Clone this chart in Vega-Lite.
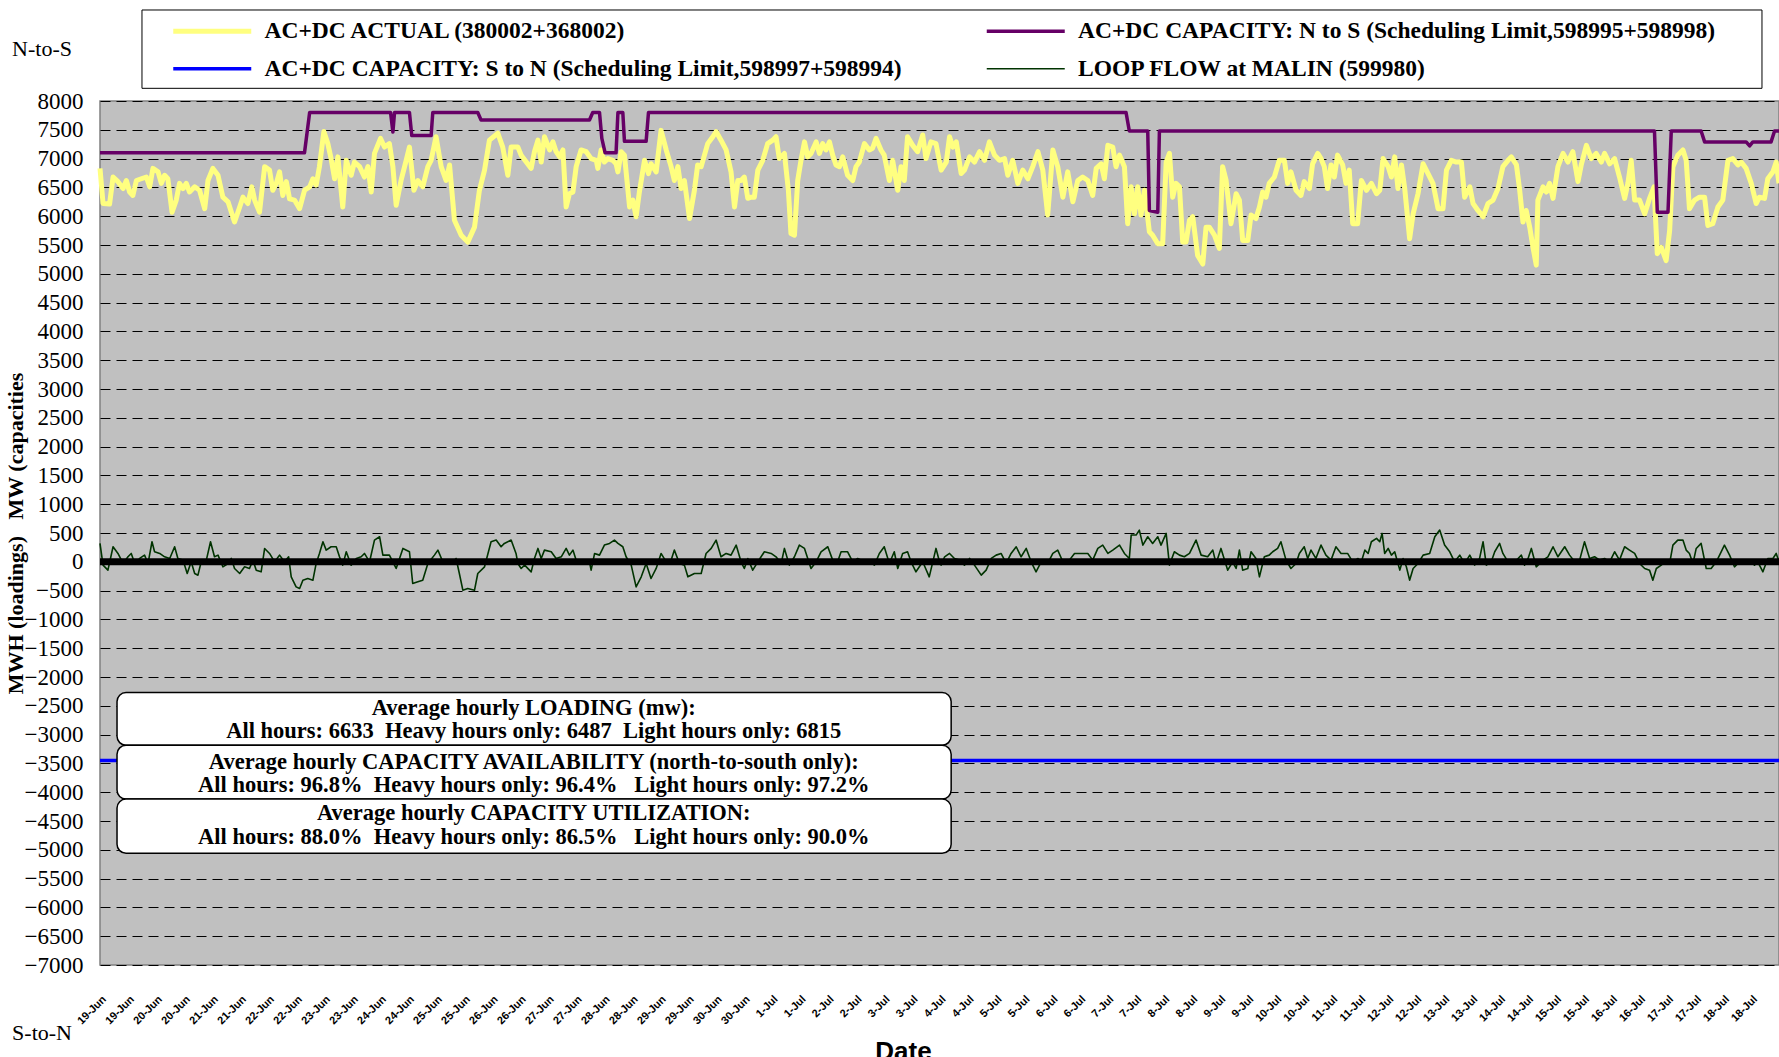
{
"$schema": "https://vega.github.io/schema/vega-lite/v6.json",
"width": 1679, "height": 864,
"autosize": {"type": "none"},
"padding": {"left": 100, "top": 101, "right": 0, "bottom": 92},
"background": "white",
"datasets": {
"box": [{"h": 18, "h2": 712.7, "v": 9580, "v2": 8220}],
"blue": [{"s": "S", "h": 0, "v": -3450}, {"s": "S", "h": 720, "v": -3450}],
"yel": [
{"s":"A","h":0,"v":6830},{"s":"A","h":1.3,"v":6220},{"s":"A","h":4.1,"v":6210},{"s":"A","h":5.6,"v":6680},{"s":"A","h":7.7,"v":6600},{"s":"A","h":9.9,"v":6480},{"s":"A","h":11.3,"v":6620},{"s":"A","h":12.7,"v":6420},{"s":"A","h":14.1,"v":6360},{"s":"A","h":15.6,"v":6620},{"s":"A","h":17.7,"v":6650},{"s":"A","h":19.9,"v":6680},{"s":"A","h":21.3,"v":6510},{"s":"A","h":22.7,"v":6830},{"s":"A","h":24.9,"v":6770},{"s":"A","h":26.3,"v":6570},{"s":"A","h":27.7,"v":6710},{"s":"A","h":29.1,"v":6650},{"s":"A","h":30.9,"v":6070},{"s":"A","h":32.7,"v":6280},{"s":"A","h":34.1,"v":6570},{"s":"A","h":35.6,"v":6480},{"s":"A","h":37,"v":6570},{"s":"A","h":38.4,"v":6420},{"s":"A","h":40.6,"v":6510},{"s":"A","h":42.7,"v":6450},{"s":"A","h":44.9,"v":6130},{"s":"A","h":46.3,"v":6620},{"s":"A","h":48.4,"v":6830},{"s":"A","h":50.6,"v":6710},{"s":"A","h":52.7,"v":6330},{"s":"A","h":54.9,"v":6250},{"s":"A","h":57.7,"v":5900},{"s":"A","h":59.9,"v":6160},{"s":"A","h":61.3,"v":6330},{"s":"A","h":63.4,"v":6220},{"s":"A","h":65.1,"v":6510},{"s":"A","h":66.3,"v":6280},{"s":"A","h":68.4,"v":6070},{"s":"A","h":70.6,"v":6860},{"s":"A","h":72.7,"v":6800},{"s":"A","h":74.1,"v":6450},{"s":"A","h":75.6,"v":6570},{"s":"A","h":77,"v":6770},{"s":"A","h":78.4,"v":6360},{"s":"A","h":79.9,"v":6600},{"s":"A","h":81.3,"v":6300},{"s":"A","h":83.4,"v":6280},{"s":"A","h":85.6,"v":6130},{"s":"A","h":87.7,"v":6450},{"s":"A","h":89.9,"v":6510},{"s":"A","h":91.3,"v":6650},{"s":"A","h":92.7,"v":6540},{"s":"A","h":94.1,"v":6860},{"s":"A","h":96,"v":7470},{"s":"A","h":97.7,"v":7260},{"s":"A","h":99.1,"v":7000},{"s":"A","h":100.6,"v":6650},{"s":"A","h":102,"v":7030},{"s":"A","h":104.1,"v":6160},{"s":"A","h":105.6,"v":6970},{"s":"A","h":107.7,"v":6710},{"s":"A","h":109.1,"v":6940},{"s":"A","h":111.3,"v":6860},{"s":"A","h":113.4,"v":6680},{"s":"A","h":114.9,"v":6860},{"s":"A","h":116.3,"v":6420},{"s":"A","h":117.7,"v":7090},{"s":"A","h":120.3,"v":7350},{"s":"A","h":122,"v":7200},{"s":"A","h":124.1,"v":7260},{"s":"A","h":125.6,"v":6860},{"s":"A","h":127,"v":6190},{"s":"A","h":129.1,"v":6620},{"s":"A","h":131.3,"v":6970},{"s":"A","h":132.7,"v":7200},{"s":"A","h":134.6,"v":6450},{"s":"A","h":136.3,"v":6620},{"s":"A","h":138.4,"v":6510},{"s":"A","h":140.6,"v":6860},{"s":"A","h":142,"v":6970},{"s":"A","h":144.1,"v":7380},{"s":"A","h":146.3,"v":6860},{"s":"A","h":148.4,"v":6620},{"s":"A","h":149.9,"v":6890},{"s":"A","h":152,"v":5930},{"s":"A","h":154.9,"v":5670},{"s":"A","h":157.7,"v":5550},{"s":"A","h":160.6,"v":5810},{"s":"A","h":162.7,"v":6450},{"s":"A","h":164.9,"v":6800},{"s":"A","h":167,"v":7320},{"s":"A","h":170.6,"v":7440},{"s":"A","h":172.7,"v":7200},{"s":"A","h":174.9,"v":6710},{"s":"A","h":176.3,"v":7200},
{"s":"A","h":179.2,"v":7200},{"s":"A","h":180.6,"v":7060},{"s":"A","h":182.8,"v":6940},{"s":"A","h":184.9,"v":6830},{"s":"A","h":186.3,"v":7120},{"s":"A","h":187.8,"v":7320},{"s":"A","h":189.2,"v":6940},{"s":"A","h":190.6,"v":7380},{"s":"A","h":192.8,"v":7150},{"s":"A","h":194.2,"v":7290},{"s":"A","h":195.6,"v":7120},{"s":"A","h":197.1,"v":7030},{"s":"A","h":198.5,"v":7150},{"s":"A","h":199.9,"v":6160},{"s":"A","h":201.3,"v":6390},{"s":"A","h":202.8,"v":6420},{"s":"A","h":204.2,"v":6860},{"s":"A","h":206.3,"v":7150},{"s":"A","h":208.5,"v":7120},{"s":"A","h":210.6,"v":7000},{"s":"A","h":212.8,"v":6970},{"s":"A","h":213.5,"v":6830},{"s":"A","h":214.9,"v":7150},{"s":"A","h":216.3,"v":6940},{"s":"A","h":217.8,"v":7000},{"s":"A","h":219.9,"v":6970},{"s":"A","h":221.3,"v":6910},{"s":"A","h":222.1,"v":6770},{"s":"A","h":223.5,"v":7120},{"s":"A","h":224.9,"v":7060},{"s":"A","h":227.1,"v":6160},{"s":"A","h":228.5,"v":6280},{"s":"A","h":229.9,"v":5990},{"s":"A","h":231.3,"v":6420},{"s":"A","h":233.5,"v":6970},{"s":"A","h":235.2,"v":6740},{"s":"A","h":236.3,"v":6910},{"s":"A","h":238.5,"v":6770},{"s":"A","h":240.6,"v":7490},{"s":"A","h":242.8,"v":7150},{"s":"A","h":244.9,"v":6860},{"s":"A","h":246.3,"v":6620},{"s":"A","h":247.8,"v":6860},{"s":"A","h":249.2,"v":6480},{"s":"A","h":250.6,"v":6620},{"s":"A","h":252.8,"v":5960},{"s":"A","h":254.9,"v":6450},{"s":"A","h":256.3,"v":6890},{"s":"A","h":257.8,"v":6860},{"s":"A","h":259.2,"v":7060},{"s":"A","h":260.6,"v":7260},{"s":"A","h":262.8,"v":7380},{"s":"A","h":264.2,"v":7470},{"s":"A","h":266.3,"v":7320},{"s":"A","h":268.5,"v":7150},{"s":"A","h":270.6,"v":6770},{"s":"A","h":272.1,"v":6160},{"s":"A","h":273.5,"v":6620},{"s":"A","h":274.9,"v":6620},{"s":"A","h":276.3,"v":6680},{"s":"A","h":277.8,"v":6310},{"s":"A","h":279.2,"v":6330},{"s":"A","h":280.6,"v":6330},{"s":"A","h":282.1,"v":6800},{"s":"A","h":284.2,"v":6970},{"s":"A","h":286.3,"v":7260},{"s":"A","h":288.5,"v":7320},{"s":"A","h":289.9,"v":7380},{"s":"A","h":291.3,"v":7000},{"s":"A","h":293.5,"v":7090},{"s":"A","h":295.2,"v":6450},{"s":"A","h":296.3,"v":5700},{"s":"A","h":297.8,"v":5670},{"s":"A","h":299.2,"v":6620},{"s":"A","h":300.6,"v":6970},{"s":"A","h":302.1,"v":7290},{"s":"A","h":303.5,"v":7030},{"s":"A","h":304.9,"v":7090},{"s":"A","h":307.1,"v":7290},{"s":"A","h":308.5,"v":7090},{"s":"A","h":309.9,"v":7260},{"s":"A","h":311.3,"v":7150},{"s":"A","h":312.8,"v":7290},{"s":"A","h":314.2,"v":7060},{"s":"A","h":315.6,"v":6890},{"s":"A","h":317.1,"v":6860},{"s":"A","h":318.5,"v":7030},{"s":"A","h":320.6,"v":6710},{"s":"A","h":322.8,"v":6620},{"s":"A","h":324.2,"v":6860},{"s":"A","h":325.6,"v":6940},{"s":"A","h":327.8,"v":7260},{"s":"A","h":329.9,"v":7150},{"s":"A","h":331.3,"v":7180},{"s":"A","h":332.8,"v":7350},{"s":"A","h":334.9,"v":7150},{"s":"A","h":336.3,"v":7060},{"s":"A","h":338.5,"v":6620},{"s":"A","h":339.9,"v":6970},{"s":"A","h":342.1,"v":6450},{"s":"A","h":343.5,"v":6860},{"s":"A","h":344.9,"v":6620},{"s":"A","h":346.3,"v":7380},{"s":"A","h":348.5,"v":7230},{"s":"A","h":350.6,"v":7120},{"s":"A","h":352.8,"v":7410},{"s":"A","h":354.2,"v":7000},{"s":"A","h":356.3,"v":7290},{"s":"A","h":358.5,"v":7260},
{"s":"A","h":360.7,"v":6800},{"s":"A","h":362.9,"v":6940},{"s":"A","h":364.3,"v":7380},{"s":"A","h":365.7,"v":7200},{"s":"A","h":367.2,"v":7290},{"s":"A","h":369.3,"v":6740},{"s":"A","h":370.7,"v":6800},{"s":"A","h":372.9,"v":7030},{"s":"A","h":375,"v":6940},{"s":"A","h":377.2,"v":7120},{"s":"A","h":379.3,"v":6970},{"s":"A","h":381.4,"v":7290},{"s":"A","h":383.6,"v":7060},{"s":"A","h":385.7,"v":6970},{"s":"A","h":387.9,"v":7000},{"s":"A","h":389.3,"v":6710},{"s":"A","h":391.4,"v":6970},{"s":"A","h":393.6,"v":6570},{"s":"A","h":395.7,"v":6800},{"s":"A","h":397.9,"v":6650},{"s":"A","h":400,"v":6860},{"s":"A","h":402.2,"v":7120},{"s":"A","h":404.3,"v":6800},{"s":"A","h":406.4,"v":6020},{"s":"A","h":408.6,"v":7150},{"s":"A","h":410.7,"v":6860},{"s":"A","h":412.9,"v":6330},{"s":"A","h":415,"v":6770},{"s":"A","h":417.2,"v":6250},{"s":"A","h":419.3,"v":6620},{"s":"A","h":421.4,"v":6680},{"s":"A","h":423.6,"v":6620},{"s":"A","h":425.7,"v":6360},{"s":"A","h":427.2,"v":6830},{"s":"A","h":429.3,"v":6910},{"s":"A","h":430.7,"v":6650},{"s":"A","h":432.2,"v":7230},{"s":"A","h":434.3,"v":7200},{"s":"A","h":435.7,"v":6860},{"s":"A","h":437.2,"v":7060},{"s":"A","h":439.3,"v":6860},{"s":"A","h":440.7,"v":5870},{"s":"A","h":442.2,"v":6510},{"s":"A","h":443.6,"v":6040},{"s":"A","h":445,"v":6510},{"s":"A","h":446.4,"v":6020},{"s":"A","h":447.9,"v":6450},{"s":"A","h":450,"v":5730},{"s":"A","h":451.4,"v":5670},{"s":"A","h":453.6,"v":5520},{"s":"A","h":455.7,"v":5520},{"s":"A","h":457.2,"v":6940},{"s":"A","h":458.6,"v":7090},{"s":"A","h":460,"v":6330},{"s":"A","h":461.4,"v":6570},{"s":"A","h":462.9,"v":6510},{"s":"A","h":464.3,"v":5550},{"s":"A","h":465.7,"v":5550},{"s":"A","h":467.2,"v":5930},{"s":"A","h":468.6,"v":5990},{"s":"A","h":470.7,"v":5320},{"s":"A","h":472.9,"v":5170},{"s":"A","h":474.3,"v":5810},{"s":"A","h":475.7,"v":5810},{"s":"A","h":477.9,"v":5670},{"s":"A","h":480,"v":5440},{"s":"A","h":481.4,"v":6860},{"s":"A","h":482.9,"v":6620},{"s":"A","h":485,"v":5870},{"s":"A","h":487.2,"v":6390},{"s":"A","h":488.6,"v":6280},{"s":"A","h":490,"v":5580},{"s":"A","h":492.2,"v":5580},{"s":"A","h":493.6,"v":6020},{"s":"A","h":495.7,"v":5960},{"s":"A","h":497.2,"v":6160},{"s":"A","h":498.6,"v":6420},{"s":"A","h":500,"v":6330},{"s":"A","h":501.4,"v":6570},{"s":"A","h":503.6,"v":6680},{"s":"A","h":505.7,"v":6970},{"s":"A","h":507.9,"v":6970},{"s":"A","h":509.3,"v":6570},{"s":"A","h":510.7,"v":6770},{"s":"A","h":512.9,"v":6450},{"s":"A","h":515,"v":6360},{"s":"A","h":516.4,"v":6600},{"s":"A","h":518.6,"v":6480},{"s":"A","h":520,"v":6910},{"s":"A","h":522.2,"v":7090},{"s":"A","h":523.6,"v":7000},{"s":"A","h":525,"v":6860},{"s":"A","h":526.4,"v":6480},{"s":"A","h":527.9,"v":6890},{"s":"A","h":529.3,"v":6680},{"s":"A","h":530.7,"v":7060},{"s":"A","h":532.9,"v":6890},{"s":"A","h":534.3,"v":6570},{"s":"A","h":535.7,"v":6800},{"s":"A","h":537.2,"v":5870},{"s":"A","h":539.3,"v":5870},
{"s":"A","h":540.9,"v":6620},{"s":"A","h":543.1,"v":6450},{"s":"A","h":545.2,"v":6570},{"s":"A","h":547.4,"v":6390},{"s":"A","h":548.8,"v":6450},{"s":"A","h":550.2,"v":7000},{"s":"A","h":552.4,"v":6860},{"s":"A","h":553.8,"v":6680},{"s":"A","h":555.2,"v":7030},{"s":"A","h":556.6,"v":6480},{"s":"A","h":558.1,"v":6890},{"s":"A","h":559.5,"v":6480},{"s":"A","h":561.6,"v":5610},{"s":"A","h":563.1,"v":6040},{"s":"A","h":565.2,"v":6390},{"s":"A","h":567.4,"v":6910},{"s":"A","h":569.5,"v":6740},{"s":"A","h":571.6,"v":6570},{"s":"A","h":573.8,"v":6130},{"s":"A","h":575.9,"v":6130},{"s":"A","h":577.4,"v":6800},{"s":"A","h":579.5,"v":6970},{"s":"A","h":581.6,"v":6940},{"s":"A","h":583.8,"v":6940},{"s":"A","h":585.2,"v":6330},{"s":"A","h":587.4,"v":6510},{"s":"A","h":588.8,"v":6220},{"s":"A","h":590.9,"v":6100},{"s":"A","h":593.1,"v":5990},{"s":"A","h":595.2,"v":6220},{"s":"A","h":597.4,"v":6280},{"s":"A","h":599.5,"v":6480},{"s":"A","h":601.6,"v":6860},{"s":"A","h":603.8,"v":6970},{"s":"A","h":605.2,"v":7030},{"s":"A","h":607.4,"v":6890},{"s":"A","h":608.8,"v":6450},{"s":"A","h":610.2,"v":5900},{"s":"A","h":611.6,"v":6100},{"s":"A","h":613.1,"v":5810},{"s":"A","h":614.5,"v":5460},{"s":"A","h":615.9,"v":5150},{"s":"A","h":616.6,"v":6280},{"s":"A","h":618.8,"v":6510},{"s":"A","h":620.2,"v":6420},{"s":"A","h":621.6,"v":6570},{"s":"A","h":623.1,"v":6310},{"s":"A","h":625.2,"v":6860},{"s":"A","h":627.4,"v":7090},{"s":"A","h":629.5,"v":6940},{"s":"A","h":631.6,"v":7120},{"s":"A","h":633.8,"v":6600},{"s":"A","h":635.2,"v":6890},{"s":"A","h":637.4,"v":7230},{"s":"A","h":639.5,"v":7000},{"s":"A","h":641.6,"v":7090},{"s":"A","h":643.8,"v":6940},{"s":"A","h":645.2,"v":7090},{"s":"A","h":647.4,"v":6910},{"s":"A","h":649.5,"v":7000},{"s":"A","h":651.6,"v":6680},{"s":"A","h":653.8,"v":6310},{"s":"A","h":655.2,"v":6570},{"s":"A","h":656.6,"v":6970},{"s":"A","h":658.1,"v":6280},{"s":"A","h":660.2,"v":6280},{"s":"A","h":662.4,"v":6040},{"s":"A","h":664.5,"v":6310},{"s":"A","h":666.4,"v":6510},{"s":"A","h":667.8,"v":5350},{"s":"A","h":669.5,"v":5460},{"s":"A","h":671.6,"v":5230},{"s":"A","h":673.1,"v":5750},{"s":"A","h":674.5,"v":6860},{"s":"A","h":676.6,"v":7060},{"s":"A","h":678.8,"v":7150},{"s":"A","h":680.2,"v":6970},{"s":"A","h":681.6,"v":6130},{"s":"A","h":683.8,"v":6280},{"s":"A","h":685.9,"v":6330},{"s":"A","h":688.1,"v":6330},{"s":"A","h":689.5,"v":5840},{"s":"A","h":691.6,"v":5870},{"s":"A","h":693.8,"v":6160},{"s":"A","h":695.9,"v":6280},{"s":"A","h":698.1,"v":6970},{"s":"A","h":700.2,"v":7000},{"s":"A","h":702.4,"v":6890},{"s":"A","h":703.8,"v":6940},{"s":"A","h":705.9,"v":6830},{"s":"A","h":708.1,"v":6570},{"s":"A","h":710.2,"v":6220},{"s":"A","h":711.6,"v":6330},{"s":"A","h":713.8,"v":6310},{"s":"A","h":715.2,"v":6650},{"s":"A","h":717.4,"v":6770},{"s":"A","h":718.8,"v":6940},{"s":"A","h":720,"v":6570}
],
"pur": [
{"s":"N","h":0,"v":7100},{"s":"N","h":87.7,"v":7100},{"s":"N","h":89.9,"v":7800},{"s":"N","h":124.6,"v":7800},{"s":"N","h":125.6,"v":7460},{"s":"N","h":126.3,"v":7800},{"s":"N","h":132.7,"v":7800},{"s":"N","h":133.7,"v":7400},{"s":"N","h":142,"v":7400},{"s":"N","h":142.7,"v":7800},{"s":"N","h":162,"v":7800},{"s":"N","h":163.4,"v":7670},{"s":"N","h":209.9,"v":7670},{"s":"N","h":211.3,"v":7800},{"s":"N","h":214.2,"v":7800},{"s":"N","h":215.2,"v":7350},{"s":"N","h":216.6,"v":7100},{"s":"N","h":221.3,"v":7100},{"s":"N","h":222.1,"v":7800},{"s":"N","h":224.2,"v":7800},{"s":"N","h":224.9,"v":7300},{"s":"N","h":234.2,"v":7300},{"s":"N","h":235.2,"v":7800},{"s":"N","h":440,"v":7800},{"s":"N","h":441.4,"v":7480},{"s":"N","h":449.3,"v":7480},{"s":"N","h":450,"v":6100},{"s":"N","h":453.6,"v":6070},{"s":"N","h":454.3,"v":7480},{"s":"N","h":666.6,"v":7480},{"s":"N","h":667.8,"v":6070},{"s":"N","h":672.4,"v":6070},{"s":"N","h":673.8,"v":7480},{"s":"N","h":686.6,"v":7480},{"s":"N","h":688.1,"v":7290},{"s":"N","h":705.9,"v":7290},{"s":"N","h":707.4,"v":7220},{"s":"N","h":708.8,"v":7290},{"s":"N","h":716.6,"v":7290},{"s":"N","h":718.1,"v":7480},{"s":"N","h":720,"v":7480}
],
"grn": [
{"s":"L","h":0,"v":319},{"s":"L","h":1.3,"v":-58},{"s":"L","h":3.4,"v":-145},{"s":"L","h":5.6,"v":261},{"s":"L","h":7.7,"v":145},{"s":"L","h":9.9,"v":-29},{"s":"L","h":12,"v":87},{"s":"L","h":13.4,"v":145},{"s":"L","h":14.9,"v":-29},{"s":"L","h":17,"v":58},{"s":"L","h":19.1,"v":116},{"s":"L","h":20.6,"v":-29},{"s":"L","h":22.3,"v":348},{"s":"L","h":23.4,"v":174},{"s":"L","h":25.6,"v":145},{"s":"L","h":27.7,"v":87},{"s":"L","h":29.9,"v":58},{"s":"L","h":32,"v":261},{"s":"L","h":33.4,"v":58},{"s":"L","h":35.6,"v":29},{"s":"L","h":37.4,"v":-203},{"s":"L","h":39.1,"v":0},{"s":"L","h":40.6,"v":-203},{"s":"L","h":42,"v":-232},{"s":"L","h":43.4,"v":0},{"s":"L","h":45.6,"v":29},{"s":"L","h":47.4,"v":348},{"s":"L","h":49.1,"v":87},{"s":"L","h":50.6,"v":116},{"s":"L","h":52.7,"v":-87},{"s":"L","h":54.9,"v":-29},{"s":"L","h":56.3,"v":58},{"s":"L","h":57.7,"v":-116},{"s":"L","h":59.9,"v":-203},{"s":"L","h":62,"v":-87},{"s":"L","h":64.1,"v":-116},{"s":"L","h":65.6,"v":29},{"s":"L","h":67,"v":-145},{"s":"L","h":69.1,"v":-174},{"s":"L","h":70.6,"v":232},{"s":"L","h":72.7,"v":145},{"s":"L","h":74.9,"v":0},{"s":"L","h":77,"v":116},{"s":"L","h":79.1,"v":0},{"s":"L","h":80.9,"v":87},{"s":"L","h":82,"v":-261},{"s":"L","h":84.1,"v":-435},{"s":"L","h":85.6,"v":-464},{"s":"L","h":87,"v":-319},{"s":"L","h":89.1,"v":-290},{"s":"L","h":91.3,"v":-319},{"s":"L","h":92.7,"v":-29},{"s":"L","h":94.1,"v":145},{"s":"L","h":95.6,"v":348},{"s":"L","h":97,"v":203},{"s":"L","h":99.1,"v":261},{"s":"L","h":101.3,"v":261},{"s":"L","h":102.7,"v":87},{"s":"L","h":104.1,"v":-58},{"s":"L","h":105.6,"v":174},{"s":"L","h":107.7,"v":-58},{"s":"L","h":109.9,"v":58},{"s":"L","h":112,"v":87},{"s":"L","h":113.4,"v":145},{"s":"L","h":115.6,"v":0},{"s":"L","h":117.7,"v":377},{"s":"L","h":119.9,"v":435},{"s":"L","h":121.3,"v":116},{"s":"L","h":124.1,"v":116},{"s":"L","h":127,"v":-116},{"s":"L","h":129.9,"v":232},{"s":"L","h":132.7,"v":174},{"s":"L","h":134.1,"v":-377},{"s":"L","h":136.3,"v":-348},{"s":"L","h":138.4,"v":-319},{"s":"L","h":140.6,"v":-29},{"s":"L","h":143.4,"v":116},{"s":"L","h":144.9,"v":203},{"s":"L","h":147,"v":0},{"s":"L","h":149.1,"v":29},{"s":"L","h":151.3,"v":0},{"s":"L","h":152.7,"v":58},{"s":"L","h":154.1,"v":-203},{"s":"L","h":155.6,"v":-493},{"s":"L","h":157.7,"v":-464},{"s":"L","h":160.6,"v":-493},{"s":"L","h":162,"v":-203},{"s":"L","h":164.9,"v":-87},{"s":"L","h":167.7,"v":348},{"s":"L","h":169.9,"v":377},{"s":"L","h":172,"v":261},{"s":"L","h":173.4,"v":319},{"s":"L","h":176.3,"v":377},{"s":"L","h":178.4,"v":145},
{"s":"L","h":179.2,"v":-29},{"s":"L","h":180.6,"v":-116},{"s":"L","h":182.1,"v":-58},{"s":"L","h":184.9,"v":-174},{"s":"L","h":186.3,"v":58},{"s":"L","h":187.8,"v":232},{"s":"L","h":189.2,"v":58},{"s":"L","h":190.6,"v":203},{"s":"L","h":193.5,"v":174},{"s":"L","h":195.6,"v":58},{"s":"L","h":197.8,"v":87},{"s":"L","h":199.9,"v":232},{"s":"L","h":201.3,"v":116},{"s":"L","h":202.8,"v":203},{"s":"L","h":204.2,"v":29},{"s":"L","h":207.1,"v":0},{"s":"L","h":209.9,"v":0},{"s":"L","h":210.6,"v":-145},{"s":"L","h":212.1,"v":145},{"s":"L","h":214.2,"v":116},{"s":"L","h":216.3,"v":290},{"s":"L","h":218.5,"v":319},{"s":"L","h":220.6,"v":377},{"s":"L","h":222.1,"v":319},{"s":"L","h":224.2,"v":261},{"s":"L","h":225.6,"v":87},{"s":"L","h":227.8,"v":-58},{"s":"L","h":229.9,"v":-435},{"s":"L","h":232.1,"v":-261},{"s":"L","h":234.2,"v":-29},{"s":"L","h":236.3,"v":-290},{"s":"L","h":238.5,"v":-116},{"s":"L","h":240.6,"v":145},{"s":"L","h":242.8,"v":0},{"s":"L","h":244.9,"v":29},{"s":"L","h":246.3,"v":203},{"s":"L","h":248.5,"v":-29},{"s":"L","h":250.6,"v":-58},{"s":"L","h":252.1,"v":-261},{"s":"L","h":254.9,"v":-203},{"s":"L","h":257.8,"v":-203},{"s":"L","h":259.9,"v":145},{"s":"L","h":262.1,"v":232},{"s":"L","h":264.2,"v":377},{"s":"L","h":266.3,"v":87},{"s":"L","h":268.5,"v":145},{"s":"L","h":270.6,"v":116},{"s":"L","h":272.8,"v":290},{"s":"L","h":274.9,"v":0},{"s":"L","h":276.3,"v":-116},{"s":"L","h":277.8,"v":58},{"s":"L","h":279.9,"v":-145},{"s":"L","h":282.1,"v":0},{"s":"L","h":284.9,"v":174},{"s":"L","h":287.8,"v":145},{"s":"L","h":289.9,"v":87},{"s":"L","h":292.1,"v":-29},{"s":"L","h":293.5,"v":232},{"s":"L","h":295.6,"v":-58},{"s":"L","h":297.8,"v":87},{"s":"L","h":299.9,"v":290},{"s":"L","h":302.1,"v":232},{"s":"L","h":304.9,"v":-116},{"s":"L","h":307.1,"v":0},{"s":"L","h":309.2,"v":174},{"s":"L","h":312.1,"v":261},{"s":"L","h":314.2,"v":29},{"s":"L","h":316.3,"v":0},{"s":"L","h":317.8,"v":174},{"s":"L","h":320.6,"v":174},{"s":"L","h":322.8,"v":0},{"s":"L","h":324.9,"v":58},{"s":"L","h":327.8,"v":0},{"s":"L","h":329.9,"v":0},{"s":"L","h":332.1,"v":-58},{"s":"L","h":334.2,"v":145},{"s":"L","h":336.3,"v":261},{"s":"L","h":338.5,"v":-29},{"s":"L","h":340.6,"v":174},{"s":"L","h":342.1,"v":-116},{"s":"L","h":344.2,"v":145},{"s":"L","h":346.3,"v":174},{"s":"L","h":347.8,"v":0},{"s":"L","h":349.9,"v":-174},{"s":"L","h":352.8,"v":0},{"s":"L","h":355.6,"v":-261},{"s":"L","h":358.5,"v":232},
{"s":"L","h":360,"v":0},{"s":"L","h":360.7,"v":-58},{"s":"L","h":362.2,"v":87},{"s":"L","h":364.3,"v":145},{"s":"L","h":366.4,"v":58},{"s":"L","h":368.6,"v":29},{"s":"L","h":370.7,"v":-58},{"s":"L","h":372.9,"v":58},{"s":"L","h":375,"v":-58},{"s":"L","h":377.9,"v":-232},{"s":"L","h":380,"v":-145},{"s":"L","h":382.2,"v":58},{"s":"L","h":384.3,"v":116},{"s":"L","h":386.4,"v":145},{"s":"L","h":388.6,"v":-29},{"s":"L","h":390.7,"v":145},{"s":"L","h":392.9,"v":261},{"s":"L","h":395,"v":87},{"s":"L","h":397.2,"v":232},{"s":"L","h":399.3,"v":0},{"s":"L","h":401.4,"v":-174},{"s":"L","h":403.6,"v":0},{"s":"L","h":406.4,"v":-29},{"s":"L","h":408.6,"v":145},{"s":"L","h":410.7,"v":203},{"s":"L","h":412.9,"v":0},{"s":"L","h":415.7,"v":29},{"s":"L","h":417.9,"v":145},{"s":"L","h":420.7,"v":145},{"s":"L","h":423.6,"v":145},{"s":"L","h":425.7,"v":29},{"s":"L","h":427.9,"v":232},{"s":"L","h":430,"v":290},{"s":"L","h":432.2,"v":145},{"s":"L","h":434.3,"v":203},{"s":"L","h":437.2,"v":290},{"s":"L","h":439.3,"v":145},{"s":"L","h":441.4,"v":58},{"s":"L","h":442.2,"v":464},{"s":"L","h":444.3,"v":464},{"s":"L","h":445.7,"v":551},{"s":"L","h":447.2,"v":290},{"s":"L","h":449.3,"v":435},{"s":"L","h":451.4,"v":319},{"s":"L","h":453.6,"v":435},{"s":"L","h":455,"v":290},{"s":"L","h":457.2,"v":493},{"s":"L","h":458.6,"v":-58},{"s":"L","h":460.7,"v":174},{"s":"L","h":462.9,"v":116},{"s":"L","h":465,"v":87},{"s":"L","h":467.2,"v":145},{"s":"L","h":470,"v":377},{"s":"L","h":472.2,"v":116},{"s":"L","h":475,"v":87},{"s":"L","h":477.2,"v":203},{"s":"L","h":478.6,"v":-29},{"s":"L","h":480.7,"v":232},{"s":"L","h":483.6,"v":-145},{"s":"L","h":485.7,"v":0},{"s":"L","h":487.2,"v":-116},{"s":"L","h":488.6,"v":203},{"s":"L","h":490,"v":-145},{"s":"L","h":492.2,"v":-116},{"s":"L","h":493.6,"v":174},{"s":"L","h":495.7,"v":58},{"s":"L","h":497.2,"v":-261},{"s":"L","h":499.3,"v":87},{"s":"L","h":501.4,"v":116},{"s":"L","h":502.9,"v":174},{"s":"L","h":505,"v":232},{"s":"L","h":506.4,"v":348},{"s":"L","h":508.6,"v":29},{"s":"L","h":510.7,"v":-116},{"s":"L","h":512.9,"v":-29},{"s":"L","h":514.3,"v":145},{"s":"L","h":516.4,"v":261},{"s":"L","h":517.9,"v":58},{"s":"L","h":519.3,"v":203},{"s":"L","h":521.4,"v":58},{"s":"L","h":523.6,"v":290},{"s":"L","h":525.7,"v":116},{"s":"L","h":527.9,"v":29},{"s":"L","h":530,"v":261},{"s":"L","h":532.2,"v":145},{"s":"L","h":535,"v":145},{"s":"L","h":537.2,"v":0},
{"s":"L","h":539.5,"v":58},{"s":"L","h":540.9,"v":0},{"s":"L","h":542.4,"v":203},{"s":"L","h":543.8,"v":145},{"s":"L","h":545.2,"v":348},{"s":"L","h":547.4,"v":406},{"s":"L","h":548.8,"v":348},{"s":"L","h":549.8,"v":493},{"s":"L","h":550.9,"v":145},{"s":"L","h":552.4,"v":232},{"s":"L","h":553.8,"v":116},{"s":"L","h":555.2,"v":174},{"s":"L","h":557.4,"v":-145},{"s":"L","h":558.8,"v":58},{"s":"L","h":560.2,"v":-87},{"s":"L","h":561.6,"v":-319},{"s":"L","h":563.1,"v":-116},{"s":"L","h":565.2,"v":-29},{"s":"L","h":567.4,"v":116},{"s":"L","h":570.2,"v":145},{"s":"L","h":572.4,"v":435},{"s":"L","h":574.5,"v":551},{"s":"L","h":576.6,"v":290},{"s":"L","h":578.8,"v":174},{"s":"L","h":580.9,"v":0},{"s":"L","h":583.1,"v":116},{"s":"L","h":585.2,"v":-29},{"s":"L","h":587.4,"v":116},{"s":"L","h":589.5,"v":-58},{"s":"L","h":591.6,"v":58},{"s":"L","h":593.1,"v":348},{"s":"L","h":594.5,"v":-58},{"s":"L","h":596.6,"v":0},{"s":"L","h":598.1,"v":174},{"s":"L","h":600.2,"v":319},{"s":"L","h":601.6,"v":145},{"s":"L","h":603.8,"v":0},{"s":"L","h":605.9,"v":-29},{"s":"L","h":608.1,"v":58},{"s":"L","h":609.5,"v":116},{"s":"L","h":610.9,"v":-58},{"s":"L","h":612.4,"v":58},{"s":"L","h":613.8,"v":232},{"s":"L","h":615.9,"v":-87},{"s":"L","h":618.8,"v":29},{"s":"L","h":620.9,"v":87},{"s":"L","h":623.1,"v":261},{"s":"L","h":625.2,"v":87},{"s":"L","h":628.1,"v":261},{"s":"L","h":630.2,"v":116},{"s":"L","h":632.4,"v":0},{"s":"L","h":634.5,"v":29},{"s":"L","h":636.6,"v":348},{"s":"L","h":638.8,"v":58},{"s":"L","h":640.9,"v":87},{"s":"L","h":643.1,"v":29},{"s":"L","h":645.2,"v":58},{"s":"L","h":647.4,"v":0},{"s":"L","h":649.5,"v":174},{"s":"L","h":651.6,"v":29},{"s":"L","h":653.8,"v":261},{"s":"L","h":655.9,"v":203},{"s":"L","h":658.1,"v":145},{"s":"L","h":660.2,"v":-29},{"s":"L","h":662.4,"v":-116},{"s":"L","h":664.5,"v":-145},{"s":"L","h":665.9,"v":-319},{"s":"L","h":667.4,"v":-116},{"s":"L","h":669.5,"v":-58},{"s":"L","h":671.6,"v":29},{"s":"L","h":673.1,"v":-29},{"s":"L","h":674.5,"v":290},{"s":"L","h":676.6,"v":377},{"s":"L","h":678.8,"v":377},{"s":"L","h":680.2,"v":203},{"s":"L","h":681.6,"v":145},{"s":"L","h":683.1,"v":-29},{"s":"L","h":684.5,"v":232},{"s":"L","h":686.6,"v":319},{"s":"L","h":688.8,"v":-116},{"s":"L","h":690.9,"v":-116},{"s":"L","h":693.1,"v":0},{"s":"L","h":695.2,"v":174},{"s":"L","h":696.6,"v":290},{"s":"L","h":698.8,"v":116},{"s":"L","h":700.9,"v":-87},{"s":"L","h":703.1,"v":0},{"s":"L","h":705.2,"v":0},{"s":"L","h":707.4,"v":29},{"s":"L","h":709.5,"v":-58},{"s":"L","h":710.9,"v":0},{"s":"L","h":713.1,"v":-174},{"s":"L","h":715.2,"v":58},{"s":"L","h":717.4,"v":58},{"s":"L","h":718.8,"v":145},{"s":"L","h":720,"v":0}
],
"zero": [{"h": 0, "v": 0}, {"h": 720, "v": 0}],
"boxes": [{"h": 7.3, "h2": 365, "v": -2270, "v2": -3185}, {"h": 7.3, "h2": 365, "v": -3185, "v2": -4120}, {"h": 7.3, "h2": 365, "v": -4120, "v2": -5060}],
"notes": [
{"h": 186, "v": -2545, "t": "Average hourly LOADING (mw):"},
{"h": 186, "v": -2945, "t": "All hours: 6633\u00a0 Heavy hours only: 6487\u00a0 Light hours only: 6815"},
{"h": 186, "v": -3480, "t": "Average hourly CAPACITY AVAILABILITY (north-to-south only):"},
{"h": 186, "v": -3880, "t": "All hours: 96.8%\u00a0 Heavy hours only: 96.4%\u00a0\u00a0 Light hours only: 97.2%"},
{"h": 186, "v": -4365, "t": "Average hourly CAPACITY UTILIZATION:"},
{"h": 186, "v": -4785, "t": "All hours: 88.0%\u00a0 Heavy hours only: 86.5%\u00a0\u00a0 Light hours only: 90.0%"}
],
"sides": [{"h": -37.7, "v": 8900, "t": "N-to-S"}, {"h": -37.7, "v": -8180, "t": "S-to-N"}]
},
"encoding": {
"x": {"field": "h", "type": "quantitative", "scale": {"domain": [0, 720], "nice": false, "zero": false},
 "axis": {"values": [0,12,24,36,48,60,72,84,96,108,120,132,144,156,168,180,192,204,216,228,240,252,264,276,288,300,312,324,336,348,360,372,384,396,408,420,432,444,456,468,480,492,504,516,528,540,552,564,576,588,600,612,624,636,648,660,672,684,696,708],
  "labelExpr": "timeFormat(datetime(2007, 5, 19, datum.value), '%-d-%b')",
  "labelAngle": -45, "labelFont": "Liberation Sans", "labelFontWeight": "bold", "labelFontSize": 11, "labelColor": "#000",
  "labelPadding": 28, "labelOverlap": false, "labelFlush": false, "labelBound": false,
  "grid": false, "ticks": false, "domain": false,
  "title": "Date", "titleFont": "Liberation Sans", "titleFontSize": 26, "titleFontWeight": "bold", "titleColor": "#000",
  "titleX": 803, "titleY": 73, "titleBaseline": "top", "titleAlign": "center", "titleAnchor": null}},
"y": {"field": "v", "type": "quantitative", "scale": {"domain": [-7000, 8000], "nice": false, "zero": false},
 "axis": {"values": [-7000,-6500,-6000,-5500,-5000,-4500,-4000,-3500,-3000,-2500,-2000,-1500,-1000,-500,0,500,1000,1500,2000,2500,3000,3500,4000,4500,5000,5500,6000,6500,7000,7500,8000],
  "format": "d",
  "grid": true, "gridColor": "#000", "gridDash": [10, 6], "gridWidth": 1, "gridOpacity": 1,
  "domain": false, "ticks": false,
  "labelFont": "Liberation Serif", "labelFontSize": 23, "labelColor": "#000", "labelPadding": 17, "labelOverlap": false, "labelFlush": false,
  "title": "MWH (loadings)\u00a0\u00a0\u00a0MW (capacities", "titleFont": "Liberation Serif", "titleFontSize": 22, "titleFontWeight": "bold", "titleColor": "#000",
  "titleX": -85, "titleY": 432, "titleAngle": -90, "titleBaseline": "middle", "titleAlign": "center", "titleAnchor": null}}
},
"layer": [
{"data": {"name": "box"}, "mark": {"type": "rect", "fill": "white", "stroke": "#000", "strokeWidth": 1}, "encoding": {"x2": {"field": "h2"}, "y2": {"field": "v2"}}},
{"data": {"name": "blue"}, "mark": {"type": "line", "strokeWidth": 3.5},
 "encoding": {"color": {"field": "s", "type": "nominal",
  "scale": {"domain": ["A", "S", "N", "L"], "range": ["#FFFF80", "#0000FF", "#660066", "#003300"]},
  "legend": {"orient": "none", "legendX": 72, "legendY": -82, "columns": 2, "title": null, "symbolType": "stroke", "symbolSize": 6084, "symbolOffset": 28.5,
   "labelFont": "Liberation Serif", "labelFontWeight": "bold", "labelFontSize": 23.5, "labelColor": "#000", "labelOffset": 40.5, "labelLimit": 0,
   "columnPadding": 77.5, "rowPadding": 13, "padding": 0,
   "labelExpr": "datum.value == 'A' ? 'AC+DC ACTUAL (380002+368002)' : datum.value == 'N' ? 'AC+DC CAPACITY: N to S (Scheduling Limit,598995+598998)' : datum.value == 'S' ? 'AC+DC CAPACITY: S to N (Scheduling Limit,598997+598994)' : 'LOOP FLOW at MALIN (599980)'",
   "encode": {"symbols": {"update": {"strokeWidth": {"signal": "datum.value == 'A' ? 5 : datum.value == 'L' ? 1.5 : 3.5"}}}}}}}},
{"data": {"name": "yel"}, "mark": {"type": "line", "strokeWidth": 5, "strokeJoin": "round"},
 "encoding": {"color": {"field": "s", "type": "nominal", "scale": {"domain": ["A", "S", "N", "L"], "range": ["#FFFF80", "#0000FF", "#660066", "#003300"]}}}},
{"data": {"name": "pur"}, "mark": {"type": "line", "strokeWidth": 3.5, "strokeJoin": "round"},
 "encoding": {"color": {"field": "s", "type": "nominal", "scale": {"domain": ["A", "S", "N", "L"], "range": ["#FFFF80", "#0000FF", "#660066", "#003300"]}}}},
{"data": {"name": "grn"}, "mark": {"type": "line", "strokeWidth": 1.6, "strokeJoin": "round"},
 "encoding": {"color": {"field": "s", "type": "nominal", "scale": {"domain": ["A", "S", "N", "L"], "range": ["#FFFF80", "#0000FF", "#660066", "#003300"]}}}},
{"data": {"name": "zero"}, "mark": {"type": "line", "color": "#000", "strokeWidth": 7}, "encoding": {}},
{"data": {"name": "boxes"}, "mark": {"type": "rect", "fill": "white", "stroke": "#000", "strokeWidth": 1.5, "cornerRadius": 9}, "encoding": {"x2": {"field": "h2"}, "y2": {"field": "v2"}}},
{"data": {"name": "notes"}, "mark": {"type": "text", "font": "Liberation Serif", "fontWeight": "bold", "fontSize": 22.5, "color": "#000", "align": "center", "baseline": "middle"}, "encoding": {"text": {"field": "t"}}},
{"data": {"name": "sides"}, "mark": {"type": "text", "font": "Liberation Serif", "fontSize": 22, "color": "#000", "align": "left", "baseline": "middle"}, "encoding": {"text": {"field": "t"}}}
],
"config": {
 "view": {"fill": "#C0C0C0", "stroke": "#808080", "strokeWidth": 1.5},
 "background": "white"
}
}
